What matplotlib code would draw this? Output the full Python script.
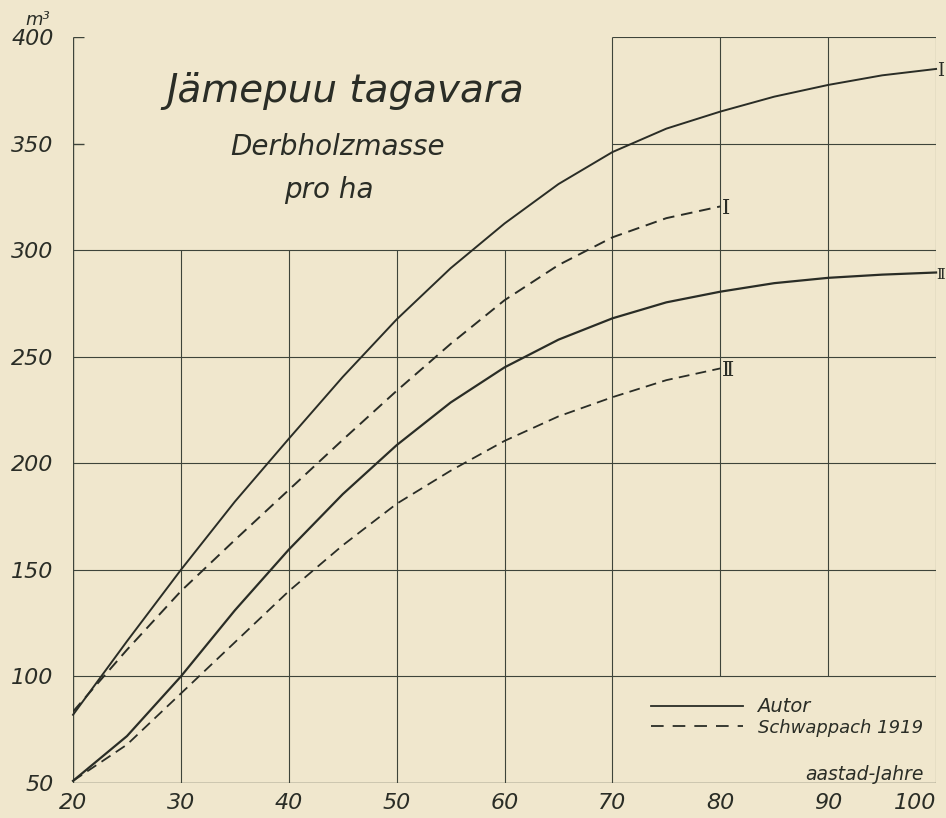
import matplotlib.pyplot as plt

# väärtused loetud joonise pealt (m3/ha)
ages = [20, 25, 30, 35, 40, 45, 50, 55, 60, 65, 70, 75, 80, 85, 90, 95, 100]
autor_I = [82, 116.5, 150, 182, 211.5, 240.5, 267.5, 291.5, 312.5, 331, 346, 357, 365, 372, 377.5, 382, 385]
autor_II = [51, 72, 100, 131, 159.5, 185.5, 208.5, 228.5, 245, 258, 268, 275.5, 280.5, 284.5, 287, 288.5, 289.5]

ages_schw = [20, 25, 30, 35, 40, 45, 50, 55, 60, 65, 70, 75, 80]
schw_I = [83.5, 112.5, 140, 164, 187.5, 211, 234, 256, 276.5, 293, 306, 315, 320.5]
schw_II = [51, 68, 92, 116, 140, 161.5, 181, 196.5, 210.5, 222, 231, 239, 244.5]

xticks = [20, 30, 40, 50, 60, 70, 80, 90, 100]
yticks = [50, 100, 150, 200, 250, 300, 350, 400]

paper = '#f0e7cd'
ink = '#2a2d26'
grid_c = '#3e443a'
tick_size = 16

fig = plt.figure(figsize=(9.46, 8.18), dpi=100, facecolor=paper)
ax = fig.add_axes([0.0772, 0.0428, 0.9123, 0.912])
ax.set_facecolor(paper)
ax.set_xlim(20, 100)
ax.set_ylim(50, 400)
for s in ax.spines.values():
    s.set_visible(False)

# võrgustik - ülemine vasak nurk on pealkirja jaoks tühi
gkw = dict(color=grid_c, linewidth=0.8, zorder=1)
ax.hlines([100, 150, 200, 250, 300], 20, 100, **gkw)
ax.hlines([350, 400], 70, 100, **gkw)
ax.vlines([30, 40, 50, 60], 50, 300, **gkw)
ax.vlines([70, 100], 50, 400, **gkw)
ax.vlines([80, 90], 100, 400, **gkw)
ax.vlines(20, 50, 400, color=grid_c, linewidth=1.0, zorder=1)
ax.hlines(50, 20, 100, color=grid_c, linewidth=1.0, zorder=1)
ax.hlines([350, 400], 20, 21, color=grid_c, linewidth=1.0, zorder=1)

# kõverad
ax.plot(ages, autor_I, color=ink, linewidth=1.4, zorder=3, clip_on=False)
ax.plot(ages, autor_II, color=ink, linewidth=1.6, zorder=3, clip_on=False)
ax.plot(ages_schw, schw_I, color=ink, linewidth=1.4, dashes=(6, 3.5), zorder=3)
ax.plot(ages_schw, schw_II, color=ink, linewidth=1.3, dashes=(6, 3.5), zorder=3)

# boniteedi märgid
rkw = dict(family='DejaVu Serif', color=ink, va='center', ha='left', clip_on=False)
ax.text(100.05, autor_I[-1] - 1, 'Ⅰ', fontsize=13, **rkw)
ax.text(100.0, autor_II[-1] - 1, 'Ⅱ', fontsize=10.5, **rkw)
ax.text(80.1, schw_I[-1] - 1, 'Ⅰ', fontsize=15, **rkw)
ax.text(80.1, schw_II[-1] - 1, 'Ⅱ', fontsize=15, **rkw)

# teljed
ax.set_xticks(xticks)
ax.set_xticklabels([str(t) for t in xticks], fontsize=tick_size, style='italic', color=ink)
ax.set_yticks(yticks)
ax.set_yticklabels([str(t) for t in yticks], fontsize=tick_size, style='italic', color=ink)
ax.tick_params(axis='both', length=0)
ax.tick_params(axis='x', pad=7)
ax.tick_params(axis='y', pad=14)
ax.get_xticklabels()[-1].set_horizontalalignment('right')
ax.text(16.7, 407.8, 'm³', fontsize=13, style='italic', color=ink, ha='center', va='center', clip_on=False)

# pealkiri
ax.text(45.2, 369.4, 'Jämepuu tagavara', fontsize=28, style='italic', color=ink, ha='center', va='baseline')
ax.text(44.5, 344.8, 'Derbholzmasse', fontsize=20, style='italic', color=ink, ha='center', va='baseline')
ax.text(43.7, 324.4, 'pro ha', fontsize=20, style='italic', color=ink, ha='center', va='baseline')

# legend
ax.plot([73.6, 82.06], [86.1, 86.1], color=ink, linewidth=1.3)
ax.plot([73.6, 82.06], [76.7, 76.7], color=ink, linewidth=1.3, dashes=(7, 5))
ax.text(83.45, 83.3, 'Autor', fontsize=14, style='italic', color=ink, va='baseline')
ax.text(83.45, 73.45, 'Schwappach 1919', fontsize=13, style='italic', color=ink, va='baseline')
ax.text(98.85, 51.6, 'aastad-Jahre', fontsize=13.5, style='italic', color=ink, ha='right', va='baseline')

plt.savefig('out.png', dpi=100, facecolor=paper)
